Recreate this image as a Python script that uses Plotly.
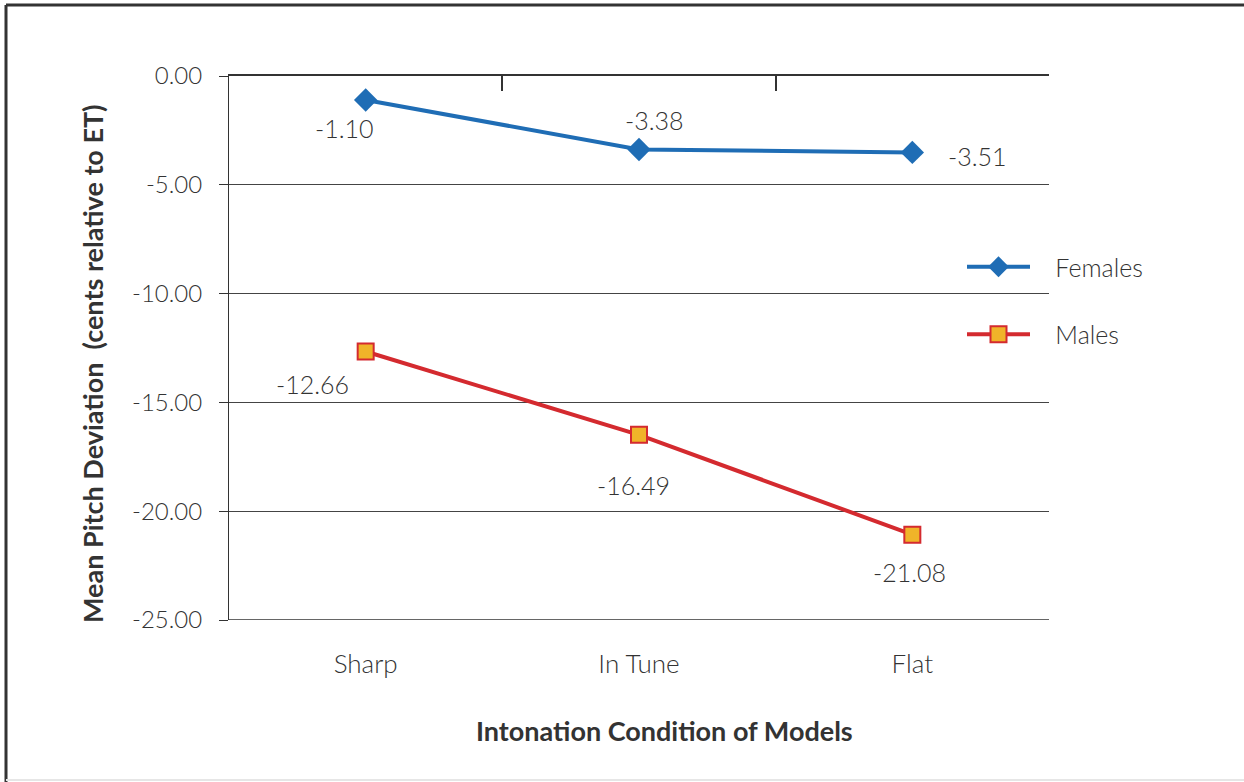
import plotly.graph_objects as go

categories = ["Sharp", "In Tune", "Flat"]
females = [-1.10, -3.38, -3.51]
males = [-12.66, -16.49, -21.08]
y_ticks = [0, -5, -10, -15, -20, -25]

# label offsets (pixels) relative to each point
f_shift = [(-21, -28), (15, 30), (65, -4)]
m_shift = [(-53, -33), (-6, -50), (-3, -37)]

FONT = "Lato"
TXT = "#333333"
xi = list(range(len(categories)))
PAD = "\u00a0\u00a0\u00a0"

fig = go.Figure()
fig.add_trace(go.Scatter(
    x=xi, y=females, name=PAD + "Females", mode="lines+markers",
    line=dict(color="#1f6db5", width=4),
    marker=dict(symbol="diamond", size=18, color="#1f6db5"),
    legendgroup="f",
))
fig.add_trace(go.Scatter(
    x=xi, y=males, name=PAD + "Males", mode="lines+markers",
    line=dict(color="#d42a2f", width=4),
    marker=dict(symbol="square", size=16, color="#f0b429",
                line=dict(color="#d42a2f", width=2)),
    legendgroup="m",
))
# top axis with ticks at category boundaries
fig.add_trace(go.Scatter(x=[-0.5, 2.5], y=[None, None], xaxis="x2",
                         showlegend=False, hoverinfo="skip"))

ann = []
for i, v in enumerate(females):
    ann.append(dict(x=i, y=v, text=f"{v:.2f}", showarrow=False,
                    xshift=f_shift[i][0], yshift=f_shift[i][1],
                    font=dict(family=FONT, size=25, color=TXT, weight=300)))
for i, v in enumerate(males):
    ann.append(dict(x=i, y=v, text=f"{v:.2f}", showarrow=False,
                    xshift=m_shift[i][0], yshift=m_shift[i][1],
                    font=dict(family=FONT, size=25, color=TXT, weight=300)))
ann.append(dict(xref="paper", yref="paper", x=(664 - 229) / 820, y=(620 - 730) / 544,
                xanchor="center", yanchor="middle",
                text="Intonation Condition of Models", showarrow=False,
                font=dict(family=FONT, size=27, color=TXT, weight="bold")))
ann.append(dict(xref="paper", yref="paper", x=(92 - 229) / 820, y=(620 - 364) / 544,
                xanchor="center", yanchor="middle",
                text="Mean Pitch Deviation  (cents relative to ET)", showarrow=False,
                textangle=-90,
                font=dict(family=FONT, size=27, color=TXT, weight="bold")))

fig.update_layout(
    width=1244, height=782,
    margin=dict(l=229, r=195, t=76, b=162),
    paper_bgcolor="white", plot_bgcolor="white",
    showlegend=True,
    legend=dict(x=(962 - 229) / 820, y=(620 - 244) / 544, xanchor="left", yanchor="top",
                font=dict(family=FONT, size=25, color=TXT, weight=300),
                itemwidth=63, tracegroupgap=32, traceorder="grouped",
                bgcolor="rgba(0,0,0,0)"),
    xaxis=dict(range=[-0.5, 2.5], tickvals=xi, ticktext=categories,
               showgrid=False, zeroline=False, showline=False, ticks="",
               ticklabelstandoff=26,
               tickfont=dict(family=FONT, size=26, color=TXT, weight=300)),
    xaxis2=dict(overlaying="x", side="top", range=[-0.5, 2.5],
                tickvals=[0.5, 1.5, 2.5], ticks="inside", ticklen=15,
                tickcolor="#333333", tickwidth=2, showticklabels=False,
                showline=True, linecolor="#333333", linewidth=2,
                showgrid=False, zeroline=False),
    yaxis=dict(range=[-25, 0], tickvals=y_ticks,
               ticktext=[f"{v:.2f}" for v in y_ticks],
               showgrid=True, gridcolor="#444444", gridwidth=1,
               zeroline=False, showline=True, linecolor="#333333", linewidth=1,
               ticks="outside", ticklen=9, tickcolor="#333333",
               ticklabelstandoff=12,
               tickfont=dict(family=FONT, size=24, color=TXT, weight=300)),
    annotations=ann,
    shapes=[
        dict(type="line", xref="paper", yref="paper",
             x0=(6 - 229) / 820, x1=(1244 - 229) / 820,
             y0=(620 - 5) / 544, y1=(620 - 5) / 544,
             line=dict(color="#333333", width=3)),
        dict(type="line", xref="paper", yref="paper",
             x0=(6 - 229) / 820, x1=(6 - 229) / 820,
             y0=(620 - 5) / 544, y1=(620 - 782) / 544,
             line=dict(color="#333333", width=3)),
        dict(type="line", xref="paper", yref="paper",
             x0=(6 - 229) / 820, x1=(1244 - 229) / 820,
             y0=(620 - 780) / 544, y1=(620 - 780) / 544,
             line=dict(color="#e6e6e6", width=2)),
        dict(type="line", xref="paper", yref="y",
             x0=0, x1=1, y0=-25, y1=-25,
             line=dict(color="#666666", width=2)),
    ],
)

fig.write_html("out.html", config={"displayModeBar": False},
               post_script="document.body.style.margin='0';")
